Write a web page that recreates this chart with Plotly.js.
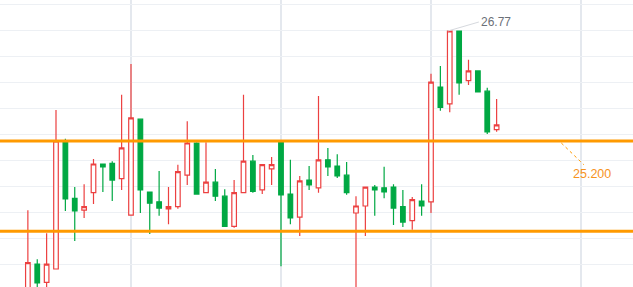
<!DOCTYPE html>
<html>
<head>
<meta charset="utf-8">
<script src="https://cdn.plot.ly/plotly-3.0.1.min.js"></script>
<style>html,body{margin:0;padding:0;background:#fff;}#chart{width:633px;height:287px;}</style>
</head>
<body>
<div id="chart"></div>
<script>
// Candle values (k = 0..50)
const openP  = [22.98,23.44,23.18,23.37,25.20,24.38,24.21,24.46,24.87,24.88,24.66,24.14,25.51,24.47,24.33,24.23,24.26,24.71,25.17,24.46,24.61,24.41,23.98,24.46,24.91,24.50,24.80,25.18,24.44,24.11,24.64,24.53,24.93,24.84,24.71,24.17,24.27,24.54,24.53,24.54,24.26,24.06,24.34,24.33,25.97,25.73,26.77,26.06,26.20,25.91,25.36];
const highP  = [24.21,23.51,23.88,25.64,25.23,24.54,24.58,24.94,24.87,24.91,25.86,26.30,25.51,24.47,24.77,24.54,24.86,25.48,25.18,25.18,24.80,24.51,24.64,25.86,25.00,24.87,24.97,25.18,24.93,24.70,24.84,25.84,25.10,25.01,24.90,24.41,24.54,24.57,24.83,24.58,24.50,24.40,24.58,26.16,26.27,26.77,26.77,26.36,26.21,25.96,25.80];
const lowP   = [22.95,23.07,23.07,23.37,24.20,23.77,24.10,24.30,24.47,24.34,24.50,24.14,24.17,23.87,24.13,24.01,24.23,24.57,24.43,24.46,24.34,23.98,23.96,24.46,24.46,24.44,24.57,23.41,24.01,23.84,24.50,24.46,24.70,24.67,24.43,23.05,23.84,24.13,24.38,24.00,23.97,23.93,24.13,24.17,25.63,25.61,25.86,26.00,25.89,25.30,25.33];
const closeP = [23.46,23.17,23.44,25.20,24.37,24.20,24.26,24.87,24.83,24.64,25.10,25.53,24.50,24.31,24.24,24.26,24.76,25.17,24.44,24.61,24.41,23.98,24.46,24.91,24.48,24.86,24.86,24.43,24.10,24.63,24.57,24.93,24.83,24.70,24.46,24.27,24.54,24.50,24.47,24.24,24.04,24.36,24.27,26.04,25.68,26.77,26.03,26.20,25.90,25.33,25.43];
const idx = openP.map((_, i) => i);

// Horizontal levels
const levels = [25.20, 23.91];
const levelLabel = '25.200';
const peakLabel = '26.77';
const peakIndex = 45;
const peakValue = 26.77;

const RED = '#ec4040', GREEN = '#00a843', ORANGE = '#ff9a00';

const trace = {
  type: 'candlestick',
  x: idx, open: openP, high: highP, low: lowP, close: closeP,
  increasing: {line: {color: RED, width: 1.2}, fillcolor: '#ffffff'},
  decreasing: {line: {color: GREEN, width: 1.2}, fillcolor: GREEN},
  hoverinfo: 'none', showlegend: false
};

const shapes = levels.map(v => ({
  type: 'line', xref: 'paper', x0: 0, x1: 1, yref: 'y', y0: v, y1: v,
  line: {color: ORANGE, width: 3}, layer: 'above'
}));
// dotted leader to the level label
shapes.push({
  type: 'line', xref: 'x', yref: 'y',
  x0: 56.9, y0: levels[0] - 0.03, x1: 59.3, y1: levels[0] - 0.34,
  line: {color: ORANGE, width: 1, dash: 'dot'}
});

const layout = {
  width: 633, height: 287,
  margin: {l: 0, r: 0, t: 0, b: 0},
  paper_bgcolor: '#ffffff', plot_bgcolor: '#ffffff',
  showlegend: false,
  xaxis: {
    range: [-2.973, 64.547], rangeslider: {visible: false},
    showticklabels: false, ticks: '', zeroline: false,
    showgrid: true, gridcolor: '#e4e8ee', gridwidth: 1.5,
    tick0: 11, dtick: 16, fixedrange: true
  },
  yaxis: {
    range: [23.1129, 27.2129],
    showticklabels: false, ticks: '', zeroline: false,
    showgrid: true, gridcolor: '#edf0f4', gridwidth: 1,
    tick0: 27.1557, dtick: 26/70, fixedrange: true
  },
  shapes: shapes,
  annotations: [
    {x: peakIndex - 0.2, y: peakValue, xref: 'x', yref: 'y', text: peakLabel,
     showarrow: true, arrowhead: 0, arrowwidth: 1, arrowcolor: '#d6d9de',
     ax: 31, ay: -9, xanchor: 'left', yanchor: 'middle',
     font: {family: 'Liberation Sans, Arial, sans-serif', size: 12, color: '#6b7078'}},
    {x: 60.2, y: levels[0] - 0.47, xref: 'x', yref: 'y', text: levelLabel,
     showarrow: false, xanchor: 'center', yanchor: 'middle',
     font: {family: 'Liberation Sans, Arial, sans-serif', size: 12.5, color: '#f7931e'}}
  ]
};

Plotly.newPlot('chart', [trace], layout, {displayModeBar: false, staticPlot: true});
</script>
</body>
</html>
